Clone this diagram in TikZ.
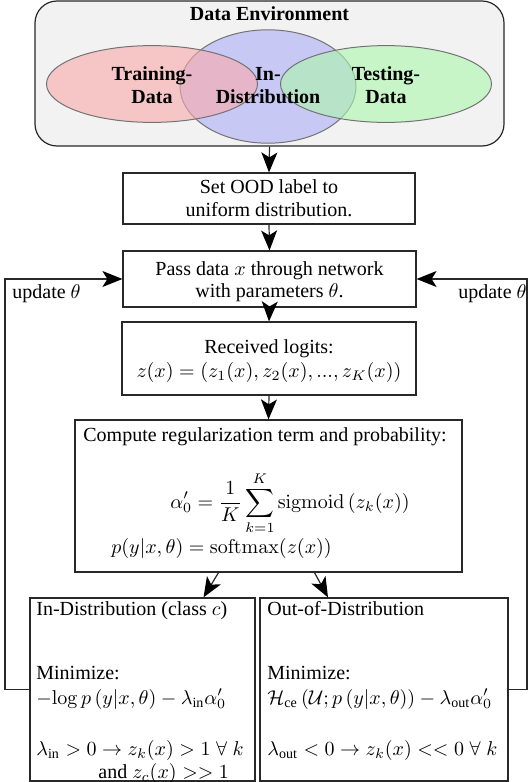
\documentclass[tikz,border=0pt]{standalone}
\usepackage{amsmath,amssymb}
\usepackage[no-math]{fontspec}
\setmainfont{Liberation Serif}
\usetikzlibrary{arrows.meta,calc,shapes.geometric}
\definecolor{envgray}{RGB}{242,242,242}
\definecolor{vred}{RGB}{250,170,170}
\definecolor{vblue}{RGB}{172,172,248}
\definecolor{vgreen}{RGB}{172,248,172}
\definecolor{edgec}{RGB}{40,40,40}
\begin{document}
\begin{tikzpicture}[x=0.5pt,y=-0.5pt,
  box/.style={draw=edgec, line width=0.6pt, inner sep=0pt, rectangle},
  txt/.style={inner sep=0pt, anchor=base},
  txtl/.style={inner sep=0pt, anchor=base west},
  txtr/.style={inner sep=0pt, anchor=base east},
  lbl/.style={inner sep=0pt, anchor=base, font=\bfseries},
  arr/.style={draw=edgec, line width=0.6pt, -{Stealth[length=10pt,width=8pt,inset=2.5pt,color=black]}},
  venn/.style={ellipse, draw=black!55, line width=0.5pt, fill opacity=0.6, inner sep=0pt},
]
\useasboundingbox (0,0) rectangle (528,782);

% data environment
\node[box, rounded corners=11pt, fill=envgray, minimum width=234.5pt, minimum height=72.5pt] (env) at (269.5,73.5) {};
\node[lbl] (envt) at (269.5,20) {Data Environment};
\node[venn, fill=vblue, minimum width=88pt, minimum height=56.7pt] (vb) at (268,86.5) {};
\node[venn, fill=vred, minimum width=105.5pt, minimum height=38.4pt] (vr) at (152,84) {};
\node[venn, fill=vgreen, minimum width=105.5pt, minimum height=38.4pt] (vg) at (386,84) {};
\node[lbl] (tr1) at (152,80) {Training-};
\node[lbl] (tr2) at (152,103) {Data};
\node[lbl] (in1) at (268,80) {In-};
\node[lbl] (in2) at (268,103) {Distribution};
\node[lbl] (te1) at (386,80) {Testing-};
\node[lbl] (te2) at (386,103) {Data};

% set OOD
\node[box, minimum width=146pt, minimum height=25.5pt] (setood) at (269,198.5) {};
\node[txt] (s1) at (269,193) {Set OOD label to};
\node[txt] (s2) at (269,216) {uniform distribution.};

% pass
\node[box, minimum width=146.5pt, minimum height=28pt] (pass) at (269.5,279) {};
\node[txt] (p1) at (269.5,275) {Pass data $x$ through network};
\node[txt] (p2) at (269.5,297) {with parameters $\theta$.};

% logits
\node[box, minimum width=147pt, minimum height=36.5pt] (logits) at (269,358.5) {};
\node[txt] (l1) at (269,353) {Received logits:};
\node[txt] (l2) at (269,377) {$z(x)=(z_1(x),z_2(x),...,z_K(x))$};

% compute
\node[box, minimum width=193.5pt, minimum height=76pt] (compute) at (268.5,496) {};
\node[txtl] (c1) at (83,441) {Compute regularization term and probability:};
\node[txtl] (c2) at (170,508) {$\displaystyle \alpha'_0=\frac{1}{K}\sum_{k=1}^{K}\operatorname{sigmoid}\left(z_k(x)\right)$};
\node[txtl] (c3) at (111,553) {$p(y|x,\theta)=\operatorname{softmax}(z(x))$};

% in-distribution
\node[box, minimum width=112.5pt, minimum height=91.5pt] (ind) at (142.5,689.5) {};
\node[txtl] (i1) at (36,615) {In-Distribution (class $c$)};
\node[txtl] (i2) at (36,679) {Minimize:};
\node[txtl] (i3) at (36,704) {$-\!\log p\left(y|x,\theta\right)-\lambda_{\text{in}}\alpha'_0$};
\node[txtl] (i4) at (36,755) {$\lambda_{\text{in}}>0\rightarrow z_k(x)>1\;\forall\;k$};
\node[txtl] (i5) at (98,778) {and $z_c(x)>>1$};

% out-of-distribution
\node[box, minimum width=124pt, minimum height=91.5pt] (ood) at (384,689.5) {};
\node[txtl] (o1) at (267,615) {Out-of-Distribution};
\node[txtl] (o2) at (267,679) {Minimize:};
\node[txtl] (o3) at (267,704) {$\mathcal{H}_{\text{ce}}\left(\mathcal{U};p\left(y|x,\theta\right)\right)-\lambda_{\text{out}}\alpha'_0$};
\node[txtl] (o4) at (267,755) {$\lambda_{\text{out}}<0\rightarrow z_k(x)<<0\;\forall\;k$};

% main arrows
\draw[arr] (env.south) -- (setood.north);
\draw[arr] (setood.south) -- (pass.north);
\draw[arr] (pass.south) -- (logits.north);
\draw[arr] (logits.south) -- (compute.north);
\draw[arr] ($(compute.south)+(-50,0)$) -- ($(ind.north)+(61,0)$);
\draw[arr] ($(compute.south)+(46,0)$) -- ($(ood.north)+(-56,0)$);

% feedback
\coordinate (lc) at (5,280);
\coordinate (rc) at (527,280);
\draw[arr] (ind.west) -- (ind.west -| lc) -- (lc |- pass.west) -- (pass.west);
\draw[arr] (ood.east) -- (ood.east -| rc) -- (rc |- pass.east) -- (pass.east);
\node[txtl] (u1) at (12,298) {update $\theta$};
\node[txtr] (u2) at (527,298) {update $\theta$};
\end{tikzpicture}
\end{document}
